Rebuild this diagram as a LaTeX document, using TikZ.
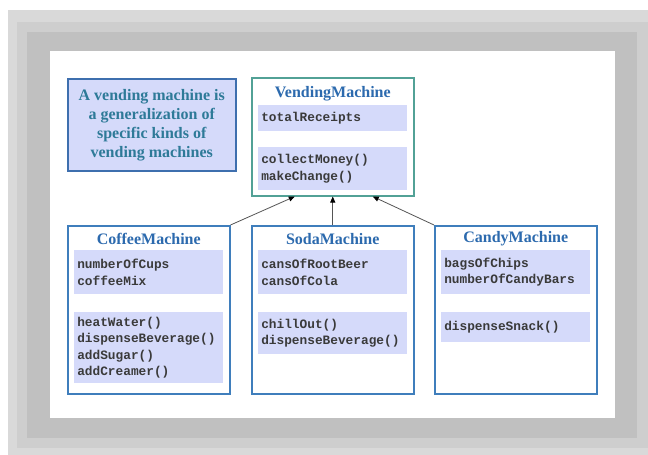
\documentclass[tikz,border=0pt]{standalone}
\usepackage{fontspec}
\setmainfont{Liberation Serif}
\setmonofont{Liberation Mono}
\usetikzlibrary{positioning,arrows.meta}
\definecolor{frameA}{HTML}{D9D9D9}
\definecolor{frameB}{HTML}{CECECE}
\definecolor{frameC}{HTML}{C0C0C0}
\definecolor{boxfill}{HTML}{D5DAFA}
\definecolor{titleblue}{HTML}{2C6AAE}
\definecolor{notetext}{HTML}{2E7A98}
\definecolor{noteblue}{HTML}{3E6FAE}
\definecolor{edgeblue}{HTML}{3F7EBC}
\definecolor{edgeteal}{HTML}{52A196}
\definecolor{monotext}{HTML}{3A3A3A}
\definecolor{linegray}{HTML}{555555}
\begin{document}
\begin{tikzpicture}[x=1pt, y=-1pt,
    classbox/.style={draw=edgeblue, line width=1.5pt, fill=white, anchor=north west,
        minimum width=162pt, minimum height=168pt, inner sep=0pt},
    classname/.style={text=titleblue, font=\fontsize{16}{19}\selectfont\bfseries, inner sep=0pt},
    members/.style={fill=boxfill, anchor=north, text width=143pt, inner xsep=3pt, inner ysep=0pt,
        align=left, text=monotext, font=\fontsize{12.8}{16.5}\selectfont\ttfamily\bfseries},
    inherit/.style={draw=linegray, line width=0.8pt, -{Triangle[length=6pt, width=5pt, color=black]}}]
    % Рамка
    \fill[white] (0,0) rectangle (648,455);
    \useasboundingbox (0,0) rectangle (648,455);
    \fill[frameA] (8,10) rectangle (648,455);
    \fill[frameB] (17,22) rectangle (648,448);
    \fill[frameC] (27,32) rectangle (637,438);
    \fill[white] (50,51) rectangle (615,418);
    % Пояснение
    \node[draw=noteblue, line width=1.5pt, fill=boxfill, anchor=north west, minimum width=168pt,
        minimum height=92pt, align=center, text=notetext, font=\fontsize{16}{19}\selectfont\bfseries]
        (note) at (67,78) {A vending machine is\\a generalization of\\specific kinds of\\vending machines};
    % Суперкласс
    \node[classbox, draw=edgeteal, minimum height=118pt] (vend) at (251,77) {};
    \node[classname] (vendName) at ([yshift=-17pt]vend.north) {VendingMachine};
    \node[members, minimum height=26pt] (vendAttr) at ([yshift=-28pt]vend.north) {totalReceipts};
    \node[members, minimum height=43pt] (vendOps) at ([yshift=-70pt]vend.north) {collectMoney()\\makeChange()};
    % Подклассы
    \node[classbox] (coffee) at (67,225) {};
    \node[classname] (coffeeName) at ([yshift=-14pt]coffee.north) {CoffeeMachine};
    \node[members, minimum height=44pt] (coffeeAttr) at ([yshift=-25pt]coffee.north) {numberOfCups\\coffeeMix};
    \node[members, minimum height=71pt] (coffeeOps) at ([yshift=-87pt]coffee.north)
        {heatWater()\\dispenseBeverage()\\addSugar()\\addCreamer()};
    \node[classbox] (soda) at (251,225) {};
    \node[classname] (sodaName) at ([yshift=-14pt]soda.north) {SodaMachine};
    \node[members, minimum height=44pt] (sodaAttr) at ([yshift=-25pt]soda.north) {cansOfRootBeer\\cansOfCola};
    \node[members, minimum height=42pt] (sodaOps) at ([yshift=-87pt]soda.north) {chillOut()\\dispenseBeverage()};
    \node[classbox] (candy) at (434,225) {};
    \node[classname] (candyName) at ([yshift=-14pt]candy.north) {CandyMachine};
    \node[members, minimum height=44pt] (candyAttr) at ([yshift=-25pt]candy.north) {bagsOfChips\\numberOfCandyBars};
    \node[members, minimum height=30pt] (candyOps) at ([yshift=-87pt]candy.north) {dispenseSnack()};
    % Стрелки
    \coordinate (vendL) at ([xshift=-38pt]vend.south);
    \coordinate (vendR) at ([xshift=40pt]vend.south);
    \draw[inherit] (coffee.north east) -- (vendL);
    \draw[inherit] (soda.north) -- (vend.south);
    \draw[inherit] (candy.north west) -- (vendR);
\end{tikzpicture}
\end{document}
